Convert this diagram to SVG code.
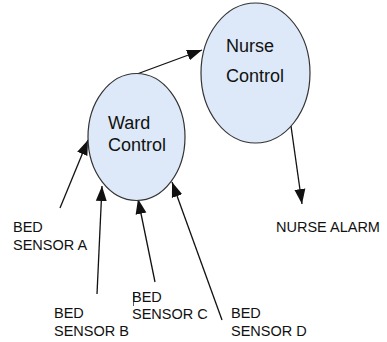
<svg xmlns="http://www.w3.org/2000/svg" width="387" height="342" viewBox="0 0 387 342">
  <defs>
    <style>
      .node { fill: #dde9f8; stroke: #333; stroke-width: 1.2; }
      .lbl { font-family: "Liberation Sans", Arial, sans-serif; fill: #111; }
      .big { font-size: 18px; }
      .small { font-size: 14.5px; }
      .edge { stroke: #111; stroke-width: 1.3; fill: none; marker-end: url(#arrow); }
    </style>
    <marker id="arrow" markerUnits="userSpaceOnUse" markerWidth="16" markerHeight="12" refX="15" refY="6" orient="auto">
      <path d="M0,0.5 L15,6 L0,11.5 Z" fill="#111"/>
    </marker>
  </defs>
  <rect width="387" height="342" fill="#fff"/>

  <g id="connectors">
    <line class="edge" x1="137" y1="74" x2="202" y2="50"/>
    <line class="edge" x1="291" y1="126" x2="302" y2="204"/>
    <line class="edge" x1="60" y1="208" x2="88" y2="140"/>
    <line class="edge" x1="97" y1="294" x2="102" y2="186"/>
    <line class="edge" x1="155" y1="282" x2="138" y2="199"/>
    <line class="edge" x1="222" y1="320" x2="172" y2="182"/>
  </g>

  <g id="ward-control">
    <ellipse class="node" cx="136.5" cy="137" rx="48.5" ry="63.5"/>
    <text class="lbl big" x="108" y="129">Ward</text>
    <text class="lbl big" x="108" y="151">Control</text>
  </g>

  <g id="nurse-control">
    <ellipse class="node" cx="255.5" cy="73" rx="54.5" ry="70"/>
    <text class="lbl big" x="226" y="52">Nurse</text>
    <text class="lbl big" x="226" y="82">Control</text>
  </g>

  <g id="nurse-alarm">
    <text class="lbl small" x="276" y="232">NURSE ALARM</text>
  </g>

  <g id="bed-sensor-a">
    <text class="lbl small" x="13" y="232">BED</text>
    <text class="lbl small" x="13" y="250">SENSOR A</text>
  </g>

  <g id="bed-sensor-b">
    <text class="lbl small" x="54" y="318">BED</text>
    <text class="lbl small" x="54" y="336">SENSOR B</text>
  </g>

  <g id="bed-sensor-c">
    <line x1="133.5" y1="292" x2="133.5" y2="306" stroke="#333" stroke-width="0.8"/>
    <text class="lbl small" x="132" y="302">BED</text>
    <text class="lbl small" x="132" y="319">SENSOR C</text>
  </g>

  <g id="bed-sensor-d">
    <text class="lbl small" x="231" y="318">BED</text>
    <text class="lbl small" x="231" y="336">SENSOR D</text>
  </g>
</svg>
